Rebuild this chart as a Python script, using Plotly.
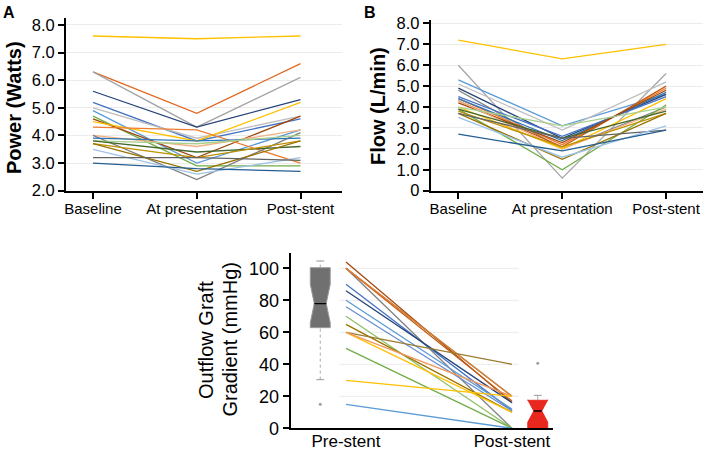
import plotly.graph_objects as go

# ---------------- data ----------------
stages = ["Baseline", "At presentation", "Post-stent"]

power_baseline     = [7.6, 6.3, 6.3, 5.6, 5.2, 5.0, 4.9, 4.7, 4.6, 4.5, 4.3, 4.0, 4.0, 3.9, 3.8, 3.8, 3.7, 3.7, 3.5, 3.2, 3.0]
power_presentation = [7.5, 4.8, 4.3, 4.3, 3.8, 3.9, 3.0, 2.9, 3.2, 3.8, 4.2, 3.6, 2.4, 3.8, 3.7, 3.4, 3.2, 2.7, 2.6, 3.2, 2.8]
power_post         = [7.6, 6.6, 6.1, 5.3, 4.6, 4.7, 4.2, 2.9, 4.7, 5.2, 3.0, 4.2, 4.1, 3.9, 4.0, 3.6, 3.8, 3.8, 3.2, 3.1, 2.7]
power_colors = ["#FFC000", "#E2661F", "#A5A5A5", "#264478", "#4472C4", "#BFBFBF", "#5B9BD5",
                "#70AD47", "#9E480E", "#FFC000", "#ED7D31", "#F4B183", "#7F7F7F", "#2E75B6",
                "#A9D18E", "#43682B", "#BF9000", "#997300", "#9DC3E6", "#636363", "#255E91"]

flow_baseline     = [7.2, 6.0, 5.3, 5.1, 4.9, 4.8, 4.5, 4.4, 4.4, 4.3, 4.2, 4.3, 4.0, 3.9, 4.0, 3.9, 3.8, 3.7, 3.7, 3.5, 2.7]
flow_presentation = [6.3, 0.6, 3.1, 2.9, 2.5, 2.0, 2.6, 2.2, 2.4, 2.1, 2.3, 2.0, 2.0, 1.0, 3.1, 2.5, 2.1, 1.5, 2.5, 1.6, 1.9]
flow_post         = [7.0, 5.6, 4.6, 5.2, 4.6, 4.0, 4.5, 4.9, 4.7, 5.0, 4.8, 3.9, 4.4, 4.1, 4.0, 3.8, 3.7, 3.7, 2.9, 3.1, 2.9]
flow_colors = ["#FFC000", "#A5A5A5", "#5B9BD5", "#BFBFBF", "#264478", "#7F7F7F", "#4472C4",
               "#ED7D31", "#2E75B6", "#C55A11", "#9E480E", "#F4B183", "#FFC000", "#70AD47",
               "#A9D18E", "#43682B", "#BF9000", "#997300", "#636363", "#9DC3E6", "#255E91"]

grad_stages = ["Pre-stent", "Post-stent"]
grad_pre  = [104, 100, 100, 100, 100, 90, 86, 80, 76, 70, 65, 60, 60, 60, 50, 30, 15]
grad_post = [16, 20, 0, 17, 20, 11, 16, 12, 11, 0, 10, 40, 10, 20, 0, 20, 0]
grad_colors = ["#9E480E", "#43682B", "#7F7F7F", "#C55A11", "#ED7D31", "#4472C4", "#264478",
               "#5B9BD5", "#698ED0", "#8CC168", "#997300", "#9A7B2F", "#FFC000", "#F1975A",
               "#70AD47", "#FFC000", "#5B9BD5"]

# box summary statistics (pre-stent, post-stent)
box_q1       = [62.9, 0.0]
box_median   = [78.0, 10.8]
box_q3       = [100.4, 17.5]
box_wlow     = [30.4, 0.0]
box_whigh    = [104.6, 20.6]
box_notch    = [12.0, 7.0]
box_outliers = [[15.0], [40.6]]

# ---------------- styling ----------------
W, H = 709, 451
FONT = "Liberation Sans, Arial, Helvetica, sans-serif"
GRID = "#ebebeb"
fig = go.Figure()

def px_x(p):
    return p / W

def px_y(p):
    return 1 - p / H

# Panel A
for b, p, s, c in zip(power_baseline, power_presentation, power_post, power_colors):
    fig.add_trace(go.Scatter(x=[0, 1, 2], y=[b, p, s], mode="lines",
                             line=dict(color=c, width=1.3), xaxis="x", yaxis="y",
                             showlegend=False, hoverinfo="skip"))
# Panel B
for b, p, s, c in zip(flow_baseline, flow_presentation, flow_post, flow_colors):
    fig.add_trace(go.Scatter(x=[0, 1, 2], y=[b, p, s], mode="lines",
                             line=dict(color=c, width=1.3), xaxis="x2", yaxis="y2",
                             showlegend=False, hoverinfo="skip"))
# Panel C lines
for a, b, c in zip(grad_pre, grad_post, grad_colors):
    fig.add_trace(go.Scatter(x=[0, 1], y=[a, b], mode="lines",
                             line=dict(color=c, width=1.3), xaxis="x3", yaxis="y3",
                             showlegend=False, hoverinfo="skip"))

# Panel C boxes
box_offset = 0.155
box_width = 0.12
box_pos = [0 - box_offset, 1 + box_offset]
box_fill = ["#707070", "#E8271E"]
box_line = ["#9a9a9a", "#E8271E"]
box_nw = [0.2, 0.3]
whisk_dash = ["dot", "solid"]
cap_half = 0.024
for i in range(2):
    fig.add_trace(go.Box(x=[box_pos[i]], q1=[box_q1[i]], median=[box_median[i]], q3=[box_q3[i]],
                         lowerfence=[box_q1[i]], upperfence=[box_q3[i]],
                         notched=True, notchspan=[box_notch[i]], notchwidth=box_nw[i],
                         width=box_width, whiskerwidth=0,
                         fillcolor=box_fill[i], line=dict(color=box_line[i], width=1),
                         boxpoints=False, xaxis="x3", yaxis="y3", showlegend=False,
                         hoverinfo="skip"))
    # median
    mh = box_width / 2 * (1 - 2 * box_nw[i])
    fig.add_trace(go.Scatter(x=[box_pos[i] - mh, box_pos[i] + mh], y=[box_median[i]] * 2,
                             mode="lines", line=dict(color="black", width=1.3),
                             xaxis="x3", yaxis="y3", showlegend=False, hoverinfo="skip"))
    # whiskers
    for lo, hi in ((box_wlow[i], box_q1[i]), (box_q3[i], box_whigh[i])):
        if hi > lo:
            fig.add_trace(go.Scatter(x=[box_pos[i]] * 2, y=[lo, hi], mode="lines",
                                     line=dict(color="#a8a8a8", width=1, dash=whisk_dash[i]),
                                     xaxis="x3", yaxis="y3", showlegend=False, hoverinfo="skip"))
    for v, ref in ((box_wlow[i], box_q1[i]), (box_whigh[i], box_q3[i])):
        if v != ref:
            fig.add_trace(go.Scatter(x=[box_pos[i] - cap_half, box_pos[i] + cap_half], y=[v, v],
                                     mode="lines", line=dict(color="#9a9a9a", width=1),
                                     xaxis="x3", yaxis="y3", showlegend=False, hoverinfo="skip"))
    fig.add_trace(go.Scatter(x=[box_pos[i]] * len(box_outliers[i]), y=box_outliers[i],
                             mode="markers", marker=dict(color="#a0a0a0", size=3),
                             xaxis="x3", yaxis="y3", showlegend=False, hoverinfo="skip"))

axis_common = dict(showline=True, linecolor="black", linewidth=2, zeroline=False,
                   automargin=False, fixedrange=True, color="black")

# gridlines for panel C (only behind the paired lines)
shapes = []
for v in [20, 40, 60, 80, 100]:
    shapes.append(dict(type="line", xref="x3", yref="y3", x0=-0.04, x1=1.04, y0=v, y1=v,
                       line=dict(color=GRID, width=1), layer="below"))

fig.update_layout(
    width=W, height=H,
    margin=dict(l=0, r=0, t=0, b=0),
    paper_bgcolor="white", plot_bgcolor="white",
    template="none",
    font=dict(family=FONT, color="black"),
    showlegend=False,
    shapes=shapes,
    xaxis=dict(domain=[px_x(66), px_x(342)], range=[-0.26, 2.4], anchor="y",
               tickvals=[0, 1, 2], ticktext=stages, ticks="outside", ticklen=6, tickwidth=2,
               ticklabelstandoff=-3,
               showgrid=False, tickfont=dict(size=15), **axis_common),
    yaxis=dict(domain=[px_y(190.7), px_y(18.3)], range=[2.0, 8.24], anchor="x",
               tickvals=[2, 3, 4, 5, 6, 7, 8], tickformat=".1f", ticks="outside", ticklen=6,
               tickwidth=2, showgrid=True, gridcolor=GRID, gridwidth=1,
               tickfont=dict(size=16.5), **axis_common),
    xaxis2=dict(domain=[px_x(430.7), px_x(703)], range=[-0.266, 2.355], anchor="y2",
                tickvals=[0, 1, 2], ticktext=stages, ticks="outside", ticklen=6, tickwidth=2,
                ticklabelstandoff=-3,
                showgrid=False, tickfont=dict(size=15), **axis_common),
    yaxis2=dict(domain=[px_y(190.7), px_y(20)], range=[0, 8.16], anchor="x2",
                tickvals=[0, 1, 2, 3, 4, 5, 6, 7, 8],
                ticktext=["0", "1.0", "2.0", "3.0", "4.0", "5.0", "6.0", "7.0", "8.0"],
                ticks="outside", ticklen=6, tickwidth=2, showgrid=True, gridcolor=GRID,
                gridwidth=1, tickfont=dict(size=16.5), **axis_common),
    xaxis3=dict(domain=[px_x(290.7), px_x(552.7)], range=[-0.333, 1.245], anchor="y3",
                tickvals=[0, 1], ticktext=grad_stages, ticks="", showgrid=False,
                ticklabelstandoff=-4,
                tickfont=dict(size=17), **axis_common),
    yaxis3=dict(domain=[px_y(428.3), px_y(253.3)], range=[0, 109.4], anchor="x3",
                tickvals=[0, 20, 40, 60, 80, 100], ticks="outside", ticklen=6, tickwidth=2,
                showgrid=False, tickfont=dict(size=18), **axis_common),
    annotations=[
        dict(text="<b>A</b>", x=px_x(9), y=px_y(13), xref="paper", yref="paper",
             showarrow=False, font=dict(size=16), xanchor="center", yanchor="middle"),
        dict(text="<b>B</b>", x=px_x(370), y=px_y(12), xref="paper", yref="paper",
             showarrow=False, font=dict(size=16), xanchor="center", yanchor="middle"),
        dict(text="<b>Power (Watts)</b>", x=px_x(14), y=px_y(108), xref="paper", yref="paper",
             showarrow=False, font=dict(size=20), textangle=-90, xanchor="center", yanchor="middle"),
        dict(text="<b>Flow (L/min)</b>", x=px_x(378), y=px_y(106), xref="paper", yref="paper",
             showarrow=False, font=dict(size=20), textangle=-90, xanchor="center", yanchor="middle"),
        dict(text="Outflow Graft", x=px_x(206), y=px_y(340), xref="paper", yref="paper",
             showarrow=False, font=dict(size=20), textangle=-90, xanchor="center", yanchor="middle"),
        dict(text="Gradient (mmHg)", x=px_x(229.5), y=px_y(340), xref="paper", yref="paper",
             showarrow=False, font=dict(size=20), textangle=-90, xanchor="center", yanchor="middle"),
    ],
)

fig.write_html("out.html", config={"displayModeBar": False},
               post_script="document.body.style.margin='0';document.body.style.overflow='hidden';")
